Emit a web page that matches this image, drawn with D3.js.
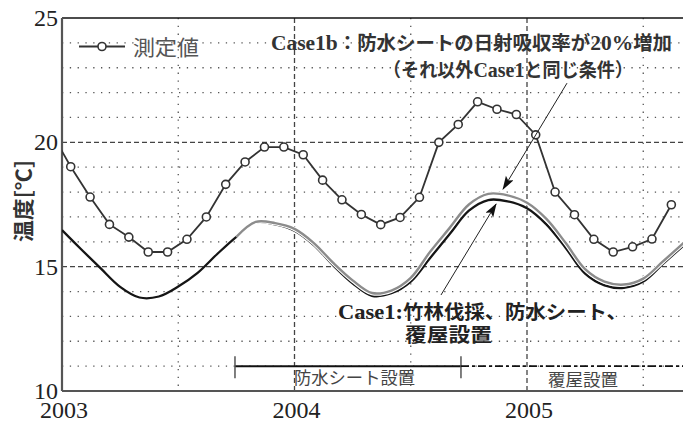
<!DOCTYPE html>
<html>
<head>
<meta charset="utf-8">
<script src="https://cdn.jsdelivr.net/npm/d3@7"></script>
<style>
  body { margin: 0; background: #fff; }
  svg { display: block; }
  .ser { font-family: "Liberation Serif", "Times New Roman", "DejaVu Serif", serif; }
  .goth { font-family: "Noto Sans CJK JP", "Noto Sans", sans-serif; }
</style>
</head>
<body>
<svg id="myGraph" width="683" height="421"></svg>
<script>
var svgWidth = 683;
var svgHeight = 421;

// 測定値 (月平均, 2002年12月〜2005年8月)
var measuredStart = [2002, 12];
var measuredValues = [20.4,
  19.02, 17.80, 16.70, 16.19, 15.59, 15.59, 16.10, 17.00, 18.31, 19.21, 19.81, 19.81,
  19.50, 18.48, 17.69, 17.10, 16.69, 16.98, 17.79, 20.00, 20.72, 21.63, 21.33, 21.12,
  20.30, 18.00, 17.09, 16.10, 15.59, 15.80, 16.11, 17.49];

// 計算値 Case1 (月初, 2003年1月〜)
var case1Start = [2003, 1];
var case1Values = [16.47, 15.69, 14.93, 14.19, 13.76, 13.80, 14.20, 14.75, 15.50,
  16.20, 16.78, 16.70, 16.45, 15.87, 15.05, 14.33, 13.83, 13.93, 14.40, 15.35,
  16.30, 17.25, 17.68, 17.63, 17.35, 16.70, 15.75, 14.72, 14.25, 14.15, 14.40,
  15.10, 15.80, 16.50];

// 計算値 Case1b (防水シート設置 2003年10月〜)
var case1bStart = [2003, 10];
var case1bValues = [16.20, 16.80, 16.75, 16.52, 15.95, 15.15, 14.45, 13.94, 14.04,
  14.55, 15.60, 16.55, 17.50, 17.93, 17.87, 17.57, 16.92, 15.95, 14.90, 14.40,
  14.28, 14.52, 15.20, 15.90, 16.60];

var yTicks = [10, 15, 20, 25];
var xTicks = [2003, 2004, 2005];

// 期間 (防水シート設置, 覆屋設置)
var sheetPeriod = [2003.744, 2004.716];
var roofPeriod = [2004.716, 2005.75];

function monthSeries(start, values, offset) {
  return values.map(function(v, i) {
    var m = start[1] - 1 + i;
    return { t: start[0] + (m + offset) / 12, v: v };
  });
}

(function() {
  var svg = d3.select('#myGraph');
  var left = 62, right = 683, top = 18, bottom = 391;

  var x = d3.scaleLinear()
    .domain([2003, 2003 + (right - left) / 232.5])
    .range([left, right]);
  var y = d3.scaleLinear()
    .domain([10, 25])
    .range([bottom, top]);

  var defs = svg.append('defs');
  defs.append('clipPath').attr('id', 'plotClip')
    .append('rect')
    .attr('x', left).attr('y', top)
    .attr('width', right - left).attr('height', bottom - top);

  var marker = defs.append('marker')
    .attr('id', 'arrow')
    .attr('markerUnits', 'userSpaceOnUse')
    .attr('markerWidth', 14).attr('markerHeight', 10)
    .attr('refX', 13).attr('refY', 4.5)
    .attr('orient', 'auto');
  marker.append('path')
    .attr('d', 'M0,0 L14,4.5 L0,9 L3,4.5 z')
    .attr('fill', '#111');

  // グリッド
  var grid = svg.append('g');
  d3.range(11, 25).forEach(function(v) {
    var major = (v % 5 === 0);
    grid.append('line')
      .attr('x1', left).attr('x2', right)
      .attr('y1', y(v)).attr('y2', y(v))
      .attr('stroke', major ? '#444' : '#555')
      .attr('stroke-width', 1.3)
      .attr('stroke-dasharray', major ? '5,3' : '1.3,6.5');
  });
  d3.range(2003.5, 2005.7, 0.5).forEach(function(t) {
    var major = (t % 1 === 0);
    grid.append('line')
      .attr('x1', x(t)).attr('x2', x(t))
      .attr('y1', top).attr('y2', bottom)
      .attr('stroke', major ? '#444' : '#555')
      .attr('stroke-width', 1.3)
      .attr('stroke-dasharray', major ? '5,3' : '1.3,6.5');
  });

  // 枠
  svg.append('line')
    .attr('x1', left).attr('x2', right).attr('y1', top).attr('y2', top)
    .attr('stroke', '#111').attr('stroke-width', 1.6);
  svg.append('line')
    .attr('x1', left).attr('x2', left).attr('y1', top).attr('y2', bottom)
    .attr('stroke', '#555').attr('stroke-width', 2.2);
  svg.append('line')
    .attr('x1', left).attr('x2', right).attr('y1', bottom).attr('y2', bottom)
    .attr('stroke', '#555').attr('stroke-width', 2.2);

  // 目盛ラベル
  svg.selectAll('.ytick').data(yTicks).enter().append('text')
    .attr('class', 'ser')
    .attr('x', 58).attr('y', function(d) { return y(d) + 8; })
    .attr('text-anchor', 'end')
    .style('font-size', '24px').style('fill', '#222')
    .text(function(d) { return d; });
  svg.selectAll('.xtick').data(xTicks).enter().append('text')
    .attr('class', 'ser')
    .attr('x', function(d) { return x(d) + 2; }).attr('y', 418)
    .attr('text-anchor', 'middle')
    .style('font-size', '24px').style('fill', '#222')
    .text(function(d) { return d; });

  svg.append('text')
    .attr('class', 'goth')
    .attr('transform', 'translate(31,201) rotate(-90)')
    .attr('text-anchor', 'middle')
    .attr('textLength', 82).attr('lengthAdjust', 'spacingAndGlyphs')
    .style('font-size', '21px').style('fill', '#333').style('font-weight', 'bold')
    .text('温度[℃]');

  var plot = svg.append('g').attr('clip-path', 'url(#plotClip)');

  var line = d3.line()
    .x(function(d) { return x(d.t); })
    .y(function(d) { return y(d.v); });
  var smooth = d3.line()
    .curve(d3.curveCatmullRom)
    .x(function(d) { return x(d.t); })
    .y(function(d) { return y(d.v); });

  var case1 = monthSeries(case1Start, case1Values, 0);
  var case1b = monthSeries(case1bStart, case1bValues, 0);
  var measured = monthSeries(measuredStart, measuredValues, 0.45);

  plot.append('path').datum(case1)
    .attr('d', smooth).attr('fill', 'none')
    .attr('stroke', '#151515').attr('stroke-width', 2.3);
  plot.append('path').datum(case1b)
    .attr('d', smooth).attr('fill', 'none')
    .attr('stroke', '#fff').attr('stroke-width', 4.5);
  plot.append('path').datum(case1b)
    .attr('d', smooth).attr('fill', 'none')
    .attr('stroke', '#8c8c8c').attr('stroke-width', 2.4);

  // 矢印
  var arrows = [
    { from: [2004.630, 13.86], to: [2004.867, 17.52] },
    { from: [2005.172, 22.38], to: [2004.897, 18.12] }
  ];
  svg.selectAll('.arrow').data(arrows).enter().append('line')
    .attr('x1', function(d) { return x(d.from[0]); })
    .attr('y1', function(d) { return y(d.from[1]); })
    .attr('x2', function(d) { return x(d.to[0]); })
    .attr('y2', function(d) { return y(d.to[1]); })
    .attr('stroke', '#222').attr('stroke-width', 1)
    .attr('marker-end', 'url(#arrow)');

  plot.append('path').datum(measured)
    .attr('d', line).attr('fill', 'none')
    .attr('stroke', '#333').attr('stroke-width', 1.8);
  plot.selectAll('.pt').data(measured.slice(1)).enter().append('circle')
    .attr('cx', function(d) { return x(d.t); })
    .attr('cy', function(d) { return y(d.v); })
    .attr('r', 4)
    .attr('fill', '#fff').attr('stroke', '#333').attr('stroke-width', 1.6);

  // 凡例
  svg.append('line')
    .attr('x1', 79).attr('x2', 125).attr('y1', 46.5).attr('y2', 46.5)
    .attr('stroke', '#333').attr('stroke-width', 1.8);
  svg.append('circle')
    .attr('cx', 102).attr('cy', 46.5).attr('r', 4)
    .attr('fill', '#fff').attr('stroke', '#333').attr('stroke-width', 1.6);
  svg.append('text')
    .attr('class', 'goth')
    .attr('x', 133).attr('y', 55)
    .attr('textLength', 66).attr('lengthAdjust', 'spacingAndGlyphs')
    .style('font-size', '21px').style('fill', '#555')
    .text('測定値');

  // 期間バー
  var barY = y(11);
  svg.append('line')
    .attr('x1', x(sheetPeriod[0])).attr('x2', x(sheetPeriod[1]))
    .attr('y1', barY).attr('y2', barY)
    .attr('stroke', '#111').attr('stroke-width', 2);
  sheetPeriod.forEach(function(t) {
    svg.append('line')
      .attr('x1', x(t)).attr('x2', x(t))
      .attr('y1', barY - 10).attr('y2', barY + 12)
      .attr('stroke', '#555').attr('stroke-width', 1.5);
  });
  svg.append('line')
    .attr('x1', x(roofPeriod[0])).attr('x2', x(roofPeriod[1]))
    .attr('y1', barY).attr('y2', barY)
    .attr('stroke', '#111').attr('stroke-width', 1.8)
    .attr('stroke-dasharray', '8,3,3,3');
  svg.append('text')
    .attr('class', 'goth')
    .attr('x', 294).attr('y', 384)
    .attr('textLength', 121).attr('lengthAdjust', 'spacingAndGlyphs')
    .style('font-size', '17px').style('fill', '#444')
    .text('防水シート設置');
  svg.append('text')
    .attr('class', 'goth')
    .attr('x', 548).attr('y', 386)
    .attr('textLength', 70).attr('lengthAdjust', 'spacingAndGlyphs')
    .style('font-size', '17px').style('fill', '#444')
    .text('覆屋設置');

  // 注記
  function note(xPos, yPos, len, parts, color) {
    var t = svg.append('text')
      .attr('x', xPos).attr('y', yPos)
      .attr('textLength', len).attr('lengthAdjust', 'spacingAndGlyphs')
      .style('font-weight', 'bold').style('fill', color);
    parts.forEach(function(p) {
      t.append('tspan')
        .attr('class', p[1] ? 'ser' : 'goth')
        .style('font-size', p[1] ? '21px' : '19px')
        .text(p[0]);
    });
  }
  note(271, 50, 401, [['Case1b', 1], ['：防水シートの日射吸収率が', 0], ['20%', 1], ['増加', 0]], '#333');
  note(383, 77, 250, [['（それ以外', 0], ['Case1', 1], ['と同じ条件）', 0]], '#333');
  note(338, 319, 289, [['Case1:', 1], ['竹林伐採、防水シート、', 0]], '#222');
  note(405, 342, 87, [['覆屋設置', 0]], '#222');
}());
</script>
</body>
</html>
